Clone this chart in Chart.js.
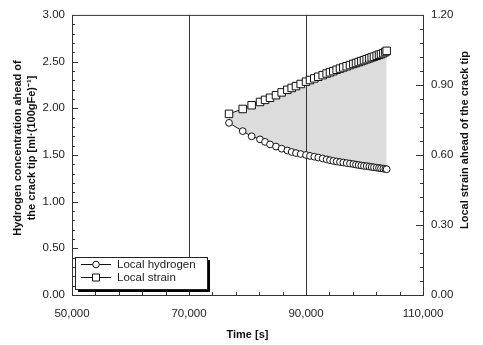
<!DOCTYPE html>
<html>
<head>
<meta charset="utf-8">
<script src="https://cdn.jsdelivr.net/npm/chart.js@4.4.0/dist/chart.umd.min.js"></script>
<style>
  html, body { margin: 0; padding: 0; background: #fff; }
</style>
</head>
<body>
<canvas id="chart" width="483" height="345"></canvas>
<script>
// time [s] of each calculation step
const times = [76840, 79180, 80710, 82140, 83000, 83850, 84870, 85840, 86810, 87550,
  88290, 89090, 90000, 90680, 91420, 92100, 92850, 93530, 94100, 94670,
  95240, 95810, 96380, 96950, 97520, 98090, 98550, 99000, 99460, 99910,
  100370, 100830, 101230, 101620, 102080, 102480, 102820, 103220, 103560, 103790];
// hydrogen concentration ahead of the crack tip (left axis)
const hydrogen = [1.844, 1.755, 1.700, 1.667, 1.640, 1.613, 1.590, 1.567, 1.548, 1.532,
  1.520, 1.510, 1.500, 1.490, 1.481, 1.472, 1.462, 1.452, 1.444, 1.436,
  1.430, 1.424, 1.419, 1.413, 1.408, 1.402, 1.397, 1.392, 1.387, 1.383,
  1.380, 1.376, 1.372, 1.368, 1.364, 1.360, 1.357, 1.353, 1.350, 1.347];
// local strain ahead of the crack tip (right axis)
const strain = [0.776, 0.797, 0.813, 0.827, 0.836, 0.845, 0.856, 0.868, 0.879, 0.887,
  0.895, 0.904, 0.914, 0.921, 0.928, 0.935, 0.942, 0.949, 0.954, 0.959,
  0.965, 0.970, 0.975, 0.980, 0.985, 0.990, 0.994, 0.998, 1.002, 1.006,
  1.010, 1.014, 1.018, 1.021, 1.025, 1.029, 1.032, 1.036, 1.041, 1.046];

const xRange = [50000, 110000];
const xMajor = 20000, xMinor = 4000;
const yRange = [0, 3];
const yMajor = 0.5, yMinor = 0.1;
const y2Range = [0, 1.2];
const y2Major = 0.3, y2Minor = 0.06;
const gridAt = [70000, 90000];

const seriesNames = ['Local hydrogen', 'Local strain'];
const leftTitle = ['Hydrogen concentration ahead of', 'the crack tip [ml\u00b7(100gFe)\u207b\u00b9]'];
const rightTitle = 'Local strain ahead of the crack tip';

const FONT = '"Liberation Sans", Arial, sans-serif';

// inward ticks, frame and the two vertical lines
const framePlugin = {
  id: 'frame',
  beforeDatasetsDraw(chart) {
    const { ctx, chartArea: a, scales } = chart;
    ctx.save();
    ctx.strokeStyle = '#333';
    ctx.lineWidth = 1;
    ctx.beginPath();
    gridAt.forEach(v => {
      const px = Math.round(scales.x.getPixelForValue(v)) + 0.5;
      ctx.moveTo(px, a.top);
      ctx.lineTo(px, a.bottom);
    });
    const nx = Math.round((xRange[1] - xRange[0]) / xMinor);
    for (let i = 1; i < nx; i++) {
      const v = xRange[0] + i * xMinor;
      const px = Math.round(scales.x.getPixelForValue(v)) + 0.5;
      const len = (v - xRange[0]) % xMajor === 0 ? 6 : 3;
      ctx.moveTo(px, a.bottom);
      ctx.lineTo(px, a.bottom - len);
    }
    const ny = Math.round((yRange[1] - yRange[0]) / yMinor);
    for (let i = 1; i < ny; i++) {
      const py = Math.round(scales.y.getPixelForValue(yRange[0] + i * yMinor)) + 0.5;
      const len = i % Math.round(yMajor / yMinor) === 0 ? 6 : 3;
      ctx.moveTo(a.left, py);
      ctx.lineTo(a.left + len, py);
    }
    const ny2 = Math.round((y2Range[1] - y2Range[0]) / y2Minor);
    for (let i = 1; i < ny2; i++) {
      const py = Math.round(scales.y2.getPixelForValue(y2Range[0] + i * y2Minor)) + 0.5;
      const len = i % Math.round(y2Major / y2Minor) === 0 ? 7 : 3;
      ctx.moveTo(a.right, py);
      ctx.lineTo(a.right - len, py);
    }
    ctx.stroke();
    ctx.strokeRect(a.left + 0.5, a.top + 0.5, a.right - a.left, a.bottom - a.top);
    ctx.restore();
  }
};

// both vertical axis titles read bottom to top
const titlesPlugin = {
  id: 'sideTitles',
  afterDraw(chart) {
    const { ctx } = chart;
    ctx.save();
    ctx.font = 'bold 11px ' + FONT;
    ctx.fillStyle = '#111';
    ctx.textAlign = 'center';
    ctx.textBaseline = 'middle';
    leftTitle.forEach((line, i) => {
      ctx.save();
      ctx.translate(18 + i * 14, 148);
      ctx.rotate(-Math.PI / 2);
      ctx.fillText(line, 0, 0);
      ctx.restore();
    });
    ctx.translate(465, 140);
    ctx.rotate(-Math.PI / 2);
    ctx.fillText(rightTitle, 0, 0);
    ctx.restore();
  }
};

// boxed legend with drop shadow, lower left
const legendPlugin = {
  id: 'boxLegend',
  afterDraw(chart) {
    const { ctx } = chart;
    const bx = 75, by = 257, bw = 132, bh = 32;
    ctx.save();
    ctx.fillStyle = '#000';
    ctx.fillRect(bx + 3, by + 3, bw, bh);
    ctx.fillStyle = '#fff';
    ctx.fillRect(bx, by, bw, bh);
    ctx.strokeStyle = '#222';
    ctx.lineWidth = 1;
    ctx.strokeRect(bx + 0.5, by + 0.5, bw, bh);
    ctx.font = '11.5px ' + FONT;
    ctx.textBaseline = 'middle';
    seriesNames.forEach((name, i) => {
      const ly = by + 7.5 + i * 13;
      ctx.beginPath();
      ctx.moveTo(81, ly);
      ctx.lineTo(111, ly);
      ctx.strokeStyle = '#111';
      ctx.stroke();
      ctx.beginPath();
      if (i === 0) {
        ctx.arc(96, ly, 3.3, 0, Math.PI * 2);
      } else {
        ctx.rect(92.5, ly - 3.5, 7, 7);
      }
      ctx.fillStyle = '#fff';
      ctx.fill();
      ctx.stroke();
      ctx.fillStyle = '#222';
      ctx.fillText(name, 117, ly + 0.5);
    });
    ctx.restore();
  }
};

const tickFont = { family: FONT, size: 11.5 };
const titleFont = { family: FONT, size: 11, weight: 'bold' };

new Chart(document.getElementById('chart'), {
  type: 'line',
  data: {
    datasets: [
      {
        label: seriesNames[0],
        data: times.map((t, i) => ({ x: t, y: hydrogen[i] })),
        yAxisID: 'y',
        borderColor: '#111',
        borderWidth: 1,
        pointStyle: 'circle',
        pointRadius: 3.4,
        pointBorderWidth: 1,
        pointBorderColor: '#111',
        pointBackgroundColor: '#fff',
        fill: false
      },
      {
        label: seriesNames[1],
        data: times.map((t, i) => ({ x: t, y: strain[i] })),
        yAxisID: 'y2',
        borderColor: '#111',
        borderWidth: 1,
        pointStyle: 'rect',
        pointRadius: 5.3,
        pointBorderWidth: 1,
        pointBorderColor: '#111',
        pointBackgroundColor: '#fff',
        backgroundColor: '#dcdcdc',
        fill: { target: 0 }
      }
    ]
  },
  options: {
    responsive: false,
    animation: false,
    layout: { padding: { top: 13, left: 0, right: 0, bottom: 0 } },
    plugins: {
      legend: { display: false },
      tooltip: { enabled: false },
      filler: { drawTime: 'beforeDatasetsDraw' }
    },
    scales: {
      x: {
        type: 'linear',
        min: xRange[0],
        max: xRange[1],
        border: { display: false },
        grid: { display: false, drawTicks: false },
        ticks: {
          stepSize: xMajor,
          padding: 12,
          color: '#222',
          font: tickFont,
          maxRotation: 0,
          callback: v => v.toLocaleString('en-US')
        },
        title: { display: true, text: 'Time [s]', color: '#111', font: titleFont, padding: { top: 0, bottom: 3 } },
        afterFit: s => { s.height = 50; }
      },
      y: {
        position: 'left',
        min: yRange[0],
        max: yRange[1],
        border: { display: false },
        grid: { display: false, drawTicks: false },
        ticks: { stepSize: yMajor, padding: 7, color: '#222', font: tickFont, callback: v => v.toFixed(2) },
        afterFit: s => { s.width = 72; }
      },
      y2: {
        position: 'right',
        min: y2Range[0],
        max: y2Range[1],
        border: { display: false },
        grid: { display: false, drawTicks: false },
        ticks: { stepSize: y2Major, padding: 8, color: '#222', font: tickFont, callback: v => v.toFixed(2) },
        afterFit: s => { s.width = 60; }
      }
    }
  },
  plugins: [framePlugin, titlesPlugin, legendPlugin]
});
</script>
</body>
</html>
